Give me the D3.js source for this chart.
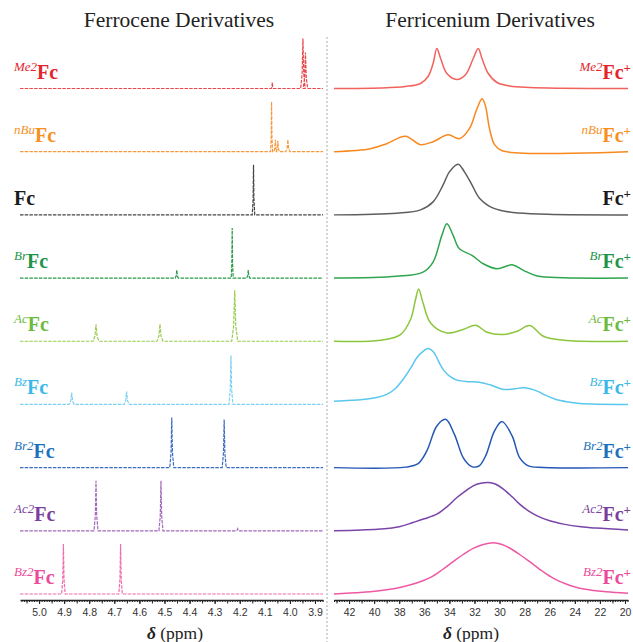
<!DOCTYPE html>
<html>
<head>
<meta charset="utf-8">
<script src="https://cdn.jsdelivr.net/npm/d3@7"></script>
<style>
  body { margin: 0; background: #fff; }
  svg { display: block; }
</style>
</head>
<body>
<svg id="main_svg"></svg>
<script>
const WIDTH = 633;
const HEIGHT = 642;

// compound prefixes (superscript part of each label), top to bottom
const compounds = ['Me2', 'nBu', '', 'Br', 'Ac', 'Bz', 'Br2', 'Ac2', 'Bz2'];
const labelColors = ['#e2262c', '#f7901e', '#1a1a1a', '#1d9546', '#6dbb3c', '#3bb9ea', '#1c72bd', '#7a3f9d', '#ec4a9a'];
const leftColors = ['#e8474b', '#f89a3c', '#444444', '#279a48', '#9acb4c', '#7dd0f1', '#3b6cc2', '#a268ba', '#f06cae'];
const rightColors = ['#f2625c', '#f7891f', '#5e5e5e', '#2ea64e', '#8cc63f', '#5ac7ee', '#2556b4', '#7944a8', '#ef58a3'];

// 1H NMR peaks of the ferrocenes: [ppm, height, half width at base]
const ferroceneMe2 = [[4.07, 6, 0.004], [3.948, 50, 0.009], [3.938, 36, 0.009]];
const ferroceneNBu = [[4.073, 50, 0.004], [4.058, 12, 0.006], [4.048, 11, 0.006], [4.008, 12, 0.008]];
const ferroceneFc = [[4.145, 50, 0.005]];
const ferroceneBr = [[4.451, 8, 0.006], [4.230, 50, 0.004], [4.166, 8, 0.006]];
const ferroceneAc = [[4.773, 17, 0.012], [4.518, 17, 0.012], [4.220, 51, 0.012]];
const ferroceneBz = [[4.870, 12, 0.01], [4.651, 13, 0.01], [4.235, 49, 0.008]];
const ferroceneBr2 = [[4.471, 50, 0.008], [4.262, 48, 0.008]];
const ferroceneAc2 = [[4.773, 50, 0.008], [4.514, 50, 0.008], [4.208, 2, 0.006]];
const ferroceneBz2 = [[4.903, 50, 0.007], [4.675, 50, 0.007]];
const ferroceneSpectra = [ferroceneMe2, ferroceneNBu, ferroceneFc, ferroceneBr, ferroceneAc,
	ferroceneBz, ferroceneBr2, ferroceneAc2, ferroceneBz2];

// ferricenium spectra: [ppm, intensity]
const fericMe2 = [[43.2, 0], [39.5, 0.5], [37.5, 2], [36.3, 5], [35.7, 12], [35.3, 25], [35.0, 40], [34.7, 30],
	[34.2, 15], [33.4, 9], [32.7, 14], [32.1, 30], [31.7, 40], [31.4, 30], [30.9, 15], [30.2, 6], [29.2, 2.5],
	[27.6, 1], [25.2, 0.3], [19.76, 0]];
const fericNBu = [[43.2, 0], [40.3, 3], [39.0, 8], [37.5, 15.5], [36.3, 7], [35.3, 10], [34.1, 17], [33.2, 13],
	[32.4, 23], [31.8, 43], [31.4, 53], [31.15, 47], [30.8, 23], [30.4, 7], [29.8, 1], [19.76, 0]];
const fericFc = [[43.2, 0], [38.2, 1.7], [36.3, 5], [35.3, 13], [34.5, 30], [34.0, 43], [33.3, 50.7], [32.8, 43],
	[32.2, 30], [31.6, 16.7], [30.5, 6.7], [28.9, 2.3], [26.2, 0.7], [19.76, 0]];
const fericBr = [[43.2, 0], [38.2, 1.7], [36.1, 6], [35.3, 16], [34.6, 42.7], [34.2, 54.3], [33.7, 42.7],
	[33.2, 29.3], [32.2, 22.7], [31.3, 14.3], [30.2, 9.3], [29.0, 13.3], [28.1, 7.7], [27.0, 2], [24.9, 0.3],
	[19.76, 0]];
const fericAc = [[43.2, 0], [39.5, 1], [37.9, 6.7], [37.1, 21.7], [36.7, 41.7], [36.45, 52.3], [36.1, 38.3],
	[35.5, 18.3], [34.2, 8.3], [32.9, 11.7], [31.9, 16], [31.0, 9], [29.7, 6.7], [28.6, 10], [27.6, 15.7],
	[26.5, 5], [24.9, 1], [19.76, 0]];
const fericBz = [[43.2, 3.3], [40.9, 5], [39.8, 7], [39.0, 10], [38.3, 16], [37.7, 25], [37.1, 36], [36.6, 46.7],
	[36.1, 53], [35.7, 56], [35.3, 53], [35.0, 46.7], [34.7, 39], [34.4, 33.3], [33.9, 27.5], [33.4, 24.3],
	[32.5, 22.8], [31.6, 22.3], [30.6, 19], [29.7, 15], [28.9, 15.5], [28.1, 16.7], [27.5, 15.5], [27.0, 13.3],
	[26.3, 9], [25.5, 5], [24.5, 2.5], [23.6, 1], [19.76, 0]];
const fericBr2 = [[43.2, 0], [37.5, 0.5], [36.5, 4], [35.8, 16.7], [35.0, 41.7], [34.3, 48.3], [33.6, 33.3],
	[32.9, 10], [32.3, 1.5], [32.0, 0.5], [31.6, 2], [31.1, 12], [30.4, 36.7], [29.8, 46], [29.0, 31.7],
	[28.4, 10], [27.7, 1.7], [26.5, 0.2], [19.76, 0]];
const fericAc2 = [[43.2, 0], [41.0, 0.8], [39.5, 1.7], [38.0, 4], [36.9, 8.3], [36.0, 12], [35.0, 16.7],
	[34.2, 24], [33.4, 33.3], [32.7, 40], [32.1, 45], [31.5, 47.5], [30.9, 48.3], [30.3, 46.5], [29.7, 41.7],
	[29.0, 34], [28.4, 26.7], [27.7, 20], [27.0, 15], [26.0, 10], [24.9, 6.7], [23.5, 4], [22.3, 2.7], [19.76, 0.7]];
const fericBz2 = [[43.2, 0], [41.5, 1.3], [40.3, 2.3], [39.0, 4.2], [37.7, 7.3], [36.5, 11.5], [35.5, 16.7],
	[34.6, 24], [33.7, 32.3], [32.9, 39.5], [32.1, 45.7], [31.3, 49.5], [30.5, 51.3], [29.8, 49.5], [29.2, 46],
	[28.4, 39.5], [27.6, 32.3], [26.6, 23], [25.7, 15.7], [24.6, 9.5], [23.6, 5.7], [22.5, 3.5], [21.5, 2.3],
	[19.76, 0.7]];
const ferriceniumSpectra = [fericMe2, fericNBu, fericFc, fericBr, fericAc, fericBz, fericBr2, fericAc2, fericBz2];

const leftTicks = [5.0, 4.9, 4.8, 4.7, 4.6, 4.5, 4.4, 4.3, 4.2, 4.1, 4.0, 3.9];
const rightTicks = [42, 40, 38, 36, 34, 32, 30, 28, 26, 24, 22, 20];
const leftDomain = [5.076, 3.868];
const rightDomain = [43.2, 19.76];

const SERIF = '"Liberation Serif", "DejaVu Serif", serif';
const SANS = '"Liberation Sans", Arial, sans-serif';
const AXIS_Y = 600;

const svg = d3.select('#main_svg').attr('width', WIDTH).attr('height', HEIGHT);

const row = d3.scalePoint().domain(d3.range(compounds.length)).range([88.5, 594]);
const intensity = d3.scaleLinear().domain([0, 50]).range([0, 50]);
const xLeft = d3.scaleLinear().domain(leftDomain).range([20, 323]);
const xRight = d3.scaleLinear().domain(rightDomain).range([334, 628]);

// turn a peak list into an outline of narrow peaks on a flat baseline
const peakOutline = (peaks) => {
	const pts = [[leftDomain[0], 0]];
	peaks.slice().sort((a, b) => b[0] - a[0]).forEach(([p, h, w]) => {
		pts.push([p + w, 0], [p + w * 0.35, h * 0.3], [p, h], [p - w * 0.35, h * 0.3], [p - w, 0]);
	});
	pts.push([leftDomain[1], 0]);
	return pts;
};

// titles
const title = (x, text) => {
	svg.append('text')
		.attr('x', x).attr('y', 27)
		.attr('text-anchor', 'middle')
		.attr('font-family', SERIF)
		.attr('font-size', '21.5px')
		.attr('fill', '#222')
		.text(text);
};
title(179, 'Ferrocene Derivatives');
title(490, 'Ferricenium Derivatives');

// separator
svg.append('line')
	.attr('x1', 327).attr('x2', 327).attr('y1', 37).attr('y2', HEIGHT)
	.attr('stroke', '#aaa').attr('stroke-width', 1).attr('stroke-dasharray', '2,2');

// ferrocene spectra (dashed)
ferroceneSpectra.forEach((peaks, i) => {
	const base = row(i);
	const line = d3.line()
		.x(d => xLeft(d[0]))
		.y(d => base - intensity(d[1]));
	svg.append('path')
		.datum(peakOutline(peaks))
		.attr('d', line)
		.attr('fill', 'none')
		.attr('stroke', leftColors[i])
		.attr('stroke-width', 1.2)
		.attr('stroke-dasharray', '3.5,1.2');
});

// ferricenium spectra (solid)
ferriceniumSpectra.forEach((pts, i) => {
	const base = row(i);
	const line = d3.line()
		.x(d => xRight(d[0]))
		.y(d => base - intensity(d[1]))
		.curve(d3.curveCatmullRom.alpha(0.5));
	svg.append('path')
		.datum(pts)
		.attr('d', line)
		.attr('fill', 'none')
		.attr('stroke', rightColors[i])
		.attr('stroke-width', 1.5);
});

// labels
compounds.forEach((c, i) => {
	const y = row(i) - 10;
	const left = svg.append('text')
		.attr('x', 14).attr('y', y)
		.attr('font-family', SERIF)
		.attr('fill', labelColors[i]);
	if (c) left.append('tspan').attr('font-style', 'italic').attr('font-size', '13px').attr('dy', -8).text(c);
	left.append('tspan').attr('font-weight', 'bold').attr('font-size', '20px').attr('dy', c ? 8 : 0).text('Fc');

	const right = svg.append('text')
		.attr('x', 631).attr('y', y)
		.attr('text-anchor', 'end')
		.attr('font-family', SERIF)
		.attr('fill', labelColors[i]);
	if (c) right.append('tspan').attr('font-style', 'italic').attr('font-size', '13px').attr('dy', -8).text(c);
	right.append('tspan').attr('font-weight', 'bold').attr('font-size', '20px').attr('dy', c ? 8 : 0).text('Fc');
	right.append('tspan').attr('font-weight', 'bold').attr('font-size', '13px').attr('dy', -7).text('+');
});

// axes: minor ticks, half-way ticks, labelled ticks
const drawAxis = (scale, ticks, step, fmt) => {
	const mn = Math.min(...scale.domain()), mx = Math.max(...scale.domain());
	const minorVals = d3.range(Math.ceil(mn / step - 1e-6), Math.floor(mx / step + 1e-6) + 1).map(k => k * step);
	const midVals = minorVals.filter(v => Math.abs(Math.round(v / (step * 5)) * step * 5 - v) < step / 10);

	svg.append('g')
		.attr('transform', `translate(0,${AXIS_Y})`)
		.call(d3.axisBottom(scale).tickValues(minorVals).tickSize(2).tickFormat('').tickSizeOuter(0))
		.call(g => g.select('.domain').remove())
		.call(g => g.selectAll('line').attr('stroke', '#222'));
	svg.append('g')
		.attr('transform', `translate(0,${AXIS_Y})`)
		.call(d3.axisBottom(scale).tickValues(midVals).tickSize(3.5).tickFormat('').tickSizeOuter(0))
		.call(g => g.select('.domain').remove())
		.call(g => g.selectAll('line').attr('stroke', '#222'));
	svg.append('g')
		.attr('transform', `translate(0,${AXIS_Y})`)
		.call(d3.axisBottom(scale).tickValues(ticks).tickSize(4).tickPadding(5).tickFormat(fmt).tickSizeOuter(0))
		.call(g => g.select('.domain').attr('stroke', '#222').attr('stroke-width', 1.3))
		.call(g => g.selectAll('line').attr('stroke', '#222'))
		.call(g => g.selectAll('text').attr('font-family', SANS).attr('font-size', '10.5px').attr('fill', '#333'));
};
drawAxis(xLeft, leftTicks, 0.01, d3.format('.1f'));
drawAxis(xRight, rightTicks, 0.2, d3.format('d'));

// axis titles
const axisTitle = (x) => {
	const t = svg.append('text')
		.attr('x', x).attr('y', 639)
		.attr('text-anchor', 'middle')
		.attr('font-family', SERIF)
		.attr('font-size', '17.5px')
		.attr('fill', '#222');
	t.append('tspan').attr('font-weight', 'bold').attr('font-style', 'italic').text('δ');
	t.append('tspan').text(' (ppm)');
};
axisTitle(175);
axisTitle(471);
</script>
</body>
</html>
